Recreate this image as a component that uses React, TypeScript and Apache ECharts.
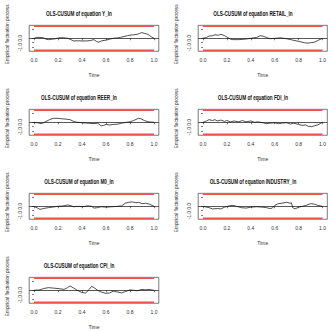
import React, { useEffect, useRef } from "react";
import * as echarts from "echarts";

// ---- data ----
const EQUATIONS = ["Y_ln", "RETAIL_ln", "REER_ln", "FDI_ln", "M0_ln", "INDUSTRY_ln", "CPI_ln"];

const Y_LN: [number, number][] = [
  [0, 0], [0.02, 0.1], [0.05, 0.1], [0.08, 0.05], [0.1, -0.1], [0.12, -0.15], [0.15, -0.1], [0.18, -0.05],
  [0.2, 0.02], [0.22, 0.08], [0.25, 0.05], [0.28, 0.0], [0.3, -0.1], [0.33, -0.3], [0.36, -0.28], [0.4, -0.3],
  [0.44, -0.3], [0.47, -0.25], [0.5, -0.15], [0.52, -0.35], [0.54, -0.45], [0.56, -0.3], [0.6, -0.2], [0.63, -0.1],
  [0.66, 0.0], [0.7, 0.05], [0.72, 0.1], [0.75, 0.2], [0.78, 0.3], [0.8, 0.35], [0.83, 0.4], [0.86, 0.45],
  [0.88, 0.55], [0.9, 0.65], [0.92, 0.55], [0.94, 0.5], [0.96, 0.35], [0.98, 0.15], [1.0, 0.0],
];
const RETAIL_LN: [number, number][] = [
  [0, 0], [0.03, 0.1], [0.05, 0.25], [0.08, 0.3], [0.1, 0.4], [0.13, 0.35], [0.15, 0.45], [0.18, 0.3],
  [0.2, 0.15], [0.23, -0.1], [0.25, -0.15], [0.3, -0.15], [0.35, -0.1], [0.4, 0.0], [0.45, 0.1], [0.48, 0.3],
  [0.5, 0.25], [0.53, 0.1], [0.56, -0.05], [0.6, 0.0], [0.65, 0.05], [0.7, -0.05], [0.75, -0.2], [0.8, -0.35],
  [0.85, -0.5], [0.88, -0.55], [0.9, -0.5], [0.93, -0.45], [0.96, -0.25], [1.0, 0.0],
];
const REER_LN: [number, number][] = [
  [0, 0], [0.03, -0.05], [0.06, -0.15], [0.08, -0.05], [0.1, 0.1], [0.13, 0.3], [0.16, 0.45], [0.2, 0.45],
  [0.23, 0.4], [0.27, 0.35], [0.3, 0.3], [0.33, 0.1], [0.36, 0.0], [0.4, -0.05], [0.45, -0.1], [0.5, -0.15],
  [0.53, -0.1], [0.56, -0.4], [0.58, -0.35], [0.6, -0.25], [0.63, -0.3], [0.66, -0.25], [0.7, -0.2], [0.73, -0.1],
  [0.77, 0.0], [0.8, 0.05], [0.83, 0.2], [0.87, 0.45], [0.89, 0.4], [0.92, 0.2], [0.95, 0.05], [1.0, 0.0],
];
const FDI_LN: [number, number][] = [
  [0, 0], [0.03, 0.15], [0.05, 0.3], [0.08, 0.2], [0.1, 0.3], [0.12, 0.15], [0.15, 0.25], [0.18, 0.1],
  [0.2, 0.2], [0.23, 0.05], [0.26, 0.15], [0.3, 0.05], [0.33, 0.2], [0.36, 0.05], [0.4, 0.15], [0.43, 0.0],
  [0.46, 0.05], [0.5, -0.05], [0.53, -0.15], [0.56, -0.1], [0.6, -0.05], [0.63, -0.15], [0.66, -0.1], [0.7, -0.05],
  [0.73, -0.2], [0.76, -0.1], [0.8, -0.25], [0.83, -0.35], [0.86, -0.3], [0.88, -0.45], [0.91, -0.5], [0.93, -0.4],
  [0.96, -0.3], [0.98, -0.15], [1.0, 0.0],
];
const M0_LN: [number, number][] = [
  [0, 0], [0.03, -0.2], [0.05, -0.35], [0.08, -0.25], [0.12, -0.15], [0.15, -0.1], [0.2, 0.0], [0.25, 0.05],
  [0.28, 0.15], [0.3, 0.1], [0.33, -0.05], [0.37, 0.0], [0.4, -0.05], [0.45, 0.05], [0.48, 0.0], [0.5, -0.2],
  [0.53, -0.15], [0.56, -0.05], [0.6, -0.1], [0.65, -0.05], [0.7, 0.0], [0.73, 0.05], [0.76, 0.35], [0.79, 0.45],
  [0.82, 0.5], [0.85, 0.4], [0.87, 0.45], [0.9, 0.3], [0.93, 0.35], [0.96, 0.25], [1.0, 0.0],
];
const INDUSTRY_LN: [number, number][] = [
  [0, 0], [0.05, -0.15], [0.08, -0.3], [0.12, -0.25], [0.15, -0.3], [0.18, -0.1], [0.22, 0.05], [0.25, 0.1],
  [0.28, 0.0], [0.32, -0.15], [0.36, -0.2], [0.4, -0.1], [0.45, -0.05], [0.5, -0.1], [0.53, -0.15], [0.56, -0.25],
  [0.58, -0.2], [0.6, 0.1], [0.63, 0.3], [0.66, 0.35], [0.7, 0.45], [0.73, 0.35], [0.74, 0.4], [0.75, -0.15],
  [0.77, -0.3], [0.8, -0.1], [0.83, 0.0], [0.86, 0.1], [0.9, 0.3], [0.93, 0.25], [0.96, 0.1], [1.0, 0.0],
];
const CPI_LN: [number, number][] = [
  [0, 0], [0.05, 0.05], [0.08, 0.2], [0.12, 0.3], [0.16, 0.25], [0.2, 0.2], [0.25, 0.1], [0.28, 0.3],
  [0.3, 0.5], [0.33, 0.25], [0.36, 0.0], [0.4, -0.25], [0.43, -0.3], [0.46, 0.1], [0.48, 0.45], [0.5, 0.3],
  [0.53, 0.0], [0.56, -0.2], [0.6, -0.35], [0.63, -0.3], [0.66, -0.1], [0.7, -0.2], [0.73, -0.3], [0.76, -0.15],
  [0.8, 0.05], [0.83, 0.0], [0.86, -0.05], [0.9, 0.1], [0.93, 0.05], [0.96, 0.1], [1.0, 0.0],
];
const PROCESSES = [Y_LN, RETAIL_LN, REER_LN, FDI_LN, M0_LN, INDUSTRY_LN, CPI_LN];

const BOUNDARY = 1.358;
const X_TICKS = [0, 0.2, 0.4, 0.6, 0.8, 1.0];
const Y_TICKS = [-1, -0.5, 0, 0.5, 1];
const Y_LABELS = [-1, 0, 0.5];

// ---- layout ----
const FONT = "'Liberation Sans', Arial, sans-serif";
const COL_X0 = [34, 203];
const TITLE_CX = [79, 253];
const X_SCALE = 120;
const ROW_ZERO0 = 38.3;
const ROW_STEP = 84;
const Y_SCALE = 8.84;
const Y_LIM = 1.467;

export default function App() {
  const ref = useRef<HTMLDivElement>(null);
  useEffect(() => {
    const chart = echarts.init(ref.current!, null, { renderer: "svg" });
    const grid: any[] = [];
    const xAxis: any[] = [];
    const yAxis: any[] = [];
    const series: any[] = [];
    const graphic: any[] = [];

    PROCESSES.forEach((data, i) => {
      const c = i % 2;
      const r = Math.floor(i / 2);
      const x0 = COL_X0[c];
      const zeroY = ROW_ZERO0 + ROW_STEP * r;
      grid.push({
        left: x0 - 0.04 * X_SCALE,
        width: 1.08 * X_SCALE,
        top: zeroY - Y_LIM * Y_SCALE,
        height: 2 * Y_LIM * Y_SCALE,
        show: true,
        borderColor: "#222",
        borderWidth: 0.6,
        backgroundColor: "transparent",
        containLabel: false,
      });
      xAxis.push({
        gridIndex: i,
        type: "value",
        min: -0.04,
        max: 1.04,
        axisLine: { show: false },
        splitLine: { show: false },
        axisTick: { show: true, length: 2, lineStyle: { color: "#222", width: 0.6 }, customValues: X_TICKS },
        axisLabel: {
          customValues: X_TICKS,
          formatter: (v: number) => v.toFixed(1),
          fontSize: 5,
          margin: 6,
          color: "#333",
          fontFamily: FONT,
        },
        name: "Time",
        nameLocation: "middle",
        nameGap: 21,
        nameTextStyle: { fontSize: 5, color: "#333", fontFamily: FONT },
      });
      yAxis.push({
        gridIndex: i,
        type: "value",
        min: -Y_LIM,
        max: Y_LIM,
        axisLine: { show: false },
        splitLine: { show: false },
        axisTick: { show: true, length: 2, lineStyle: { color: "#222", width: 0.6 }, customValues: Y_TICKS },
        axisLabel: {
          customValues: Y_LABELS,
          formatter: (v: number) => (v === 0.5 ? "{up|0.5}" : v.toFixed(1)),
          rich: { up: { padding: [0, 0, 0, 4], fontSize: 4.8, color: "#333", fontFamily: FONT } },
          rotate: 90,
          fontSize: 4.8,
          margin: 6,
          color: "#333",
          fontFamily: FONT,
        },
        name: "Empirical fluctuation process",
        nameLocation: "middle",
        nameGap: 19,
        nameRotate: 90,
        nameTextStyle: { fontSize: 4.7, color: "#333", fontFamily: FONT, padding: [0, 0, 0, 8] },
      });
      series.push({
        type: "line",
        xAxisIndex: i,
        yAxisIndex: i,
        data: [[0, BOUNDARY], [1, BOUNDARY]],
        symbol: "none",
        silent: true,
        lineStyle: { color: "#EE5050", width: 1.4 },
      });
      series.push({
        type: "line",
        xAxisIndex: i,
        yAxisIndex: i,
        data: [[0, -BOUNDARY], [1, -BOUNDARY]],
        symbol: "none",
        silent: true,
        lineStyle: { color: "#EE5050", width: 1.4 },
      });
      series.push({
        type: "line",
        xAxisIndex: i,
        yAxisIndex: i,
        data,
        symbol: "none",
        silent: true,
        lineStyle: { color: "#222", width: 0.8 },
        markLine: {
          silent: true,
          symbol: ["none", "none"],
          label: { show: false },
          lineStyle: { color: "#111", width: 0.7, type: "solid" },
          data: [{ yAxis: 0 }],
        },
      });
      graphic.push({
        type: "text",
        x: TITLE_CX[c],
        y: zeroY - 24.5,
        scaleX: 0.67,
        style: {
          text: "OLS-CUSUM of equation " + EQUATIONS[i],
          fontSize: 7,
          fontWeight: "bold",
          fontFamily: FONT,
          fill: "#111",
          align: "center",
          verticalAlign: "middle",
        },
      });
    });

    chart.setOption({
      animation: false,
      backgroundColor: "#fff",
      grid,
      xAxis,
      yAxis,
      series,
      graphic,
    });
    return () => chart.dispose();
  }, []);
  return (
    <div
      ref={ref}
      style={{ position: "absolute", left: 0, top: 0, width: 329, height: 331 }}
    />
  );
}
